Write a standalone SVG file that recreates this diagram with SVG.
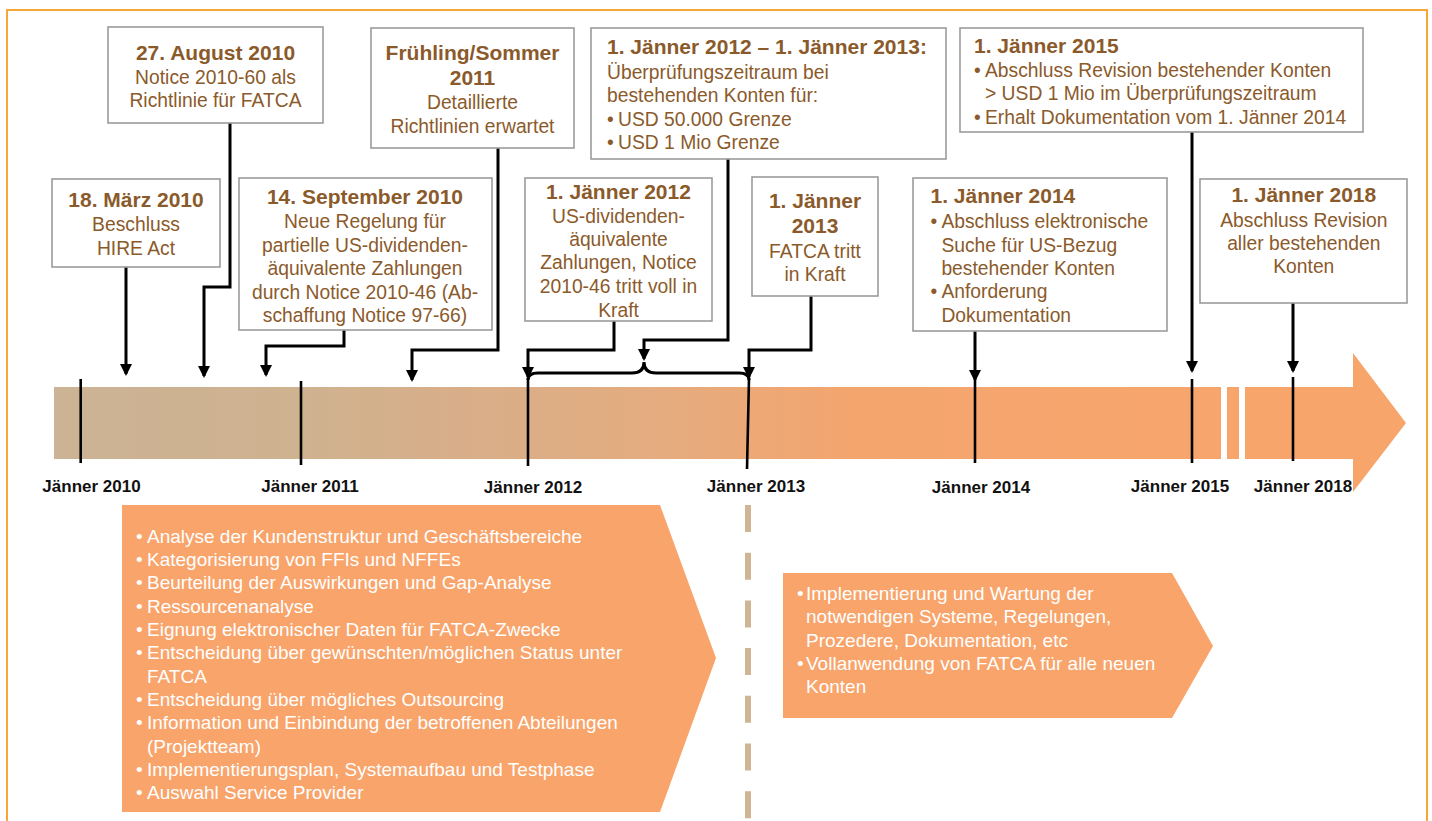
<svg xmlns="http://www.w3.org/2000/svg" width="1432" height="821" viewBox="0 0 1432 821">
<style>
.box{fill:#fff;stroke:#9b9b9b;stroke-width:1.6}
.h{font-family:"Liberation Sans",Arial,sans-serif;font-weight:bold;font-size:21px;fill:#8B5A2B}
.t{font-family:"Liberation Sans",Arial,sans-serif;font-size:19.3px;fill:#8B5A2B}
.c{text-anchor:middle}
.conn{fill:none;stroke:#000;stroke-width:3;stroke-linejoin:miter}
.tick{stroke:#000;stroke-width:2.6}
.lbl{font-family:"Liberation Sans",Arial,sans-serif;font-weight:bold;font-size:17px;fill:#111;text-anchor:middle}
.w{font-family:"Liberation Sans",Arial,sans-serif;font-size:19px;fill:#fff}
.phase{fill:#F8A46B}
</style>
<defs>
<linearGradient id="barGrad" gradientUnits="userSpaceOnUse" x1="54" y1="0" x2="1406" y2="0">
<stop offset="0" stop-color="#CBB394"/>
<stop offset="0.18" stop-color="#CFB290"/>
<stop offset="0.315" stop-color="#D9AE88"/>
<stop offset="0.44" stop-color="#E4AC80"/>
<stop offset="0.59" stop-color="#F4A56E"/>
<stop offset="1" stop-color="#F8A56B"/>
</linearGradient>
<marker id="arr" markerUnits="userSpaceOnUse" markerWidth="12" markerHeight="12" refX="10" refY="6" orient="auto">
<path d="M0,0 L12,6 L0,12 z" fill="#000"/>
</marker>
</defs>

<rect x="7" y="10" width="1420" height="840" fill="#fff" stroke="#F7A637" stroke-width="2"/>

<g id="timeline">
<path d="M54,387 H1221 V459 H54 Z" fill="url(#barGrad)"/>
<rect x="1227" y="387" width="12" height="72" fill="#F8A56B"/>
<path d="M1245,387 H1353 V353 L1406,423 L1353,492 V459 H1245 Z" fill="#F8A56B"/>
<line class="tick" x1="80.7" y1="379" x2="80.7" y2="463"/>
<line class="tick" x1="301" y1="381" x2="301" y2="465"/>
<line class="tick" x1="528" y1="378" x2="528" y2="466"/>
<line class="tick" x1="749" y1="378" x2="747" y2="469"/>
<line class="tick" x1="975" y1="380" x2="975" y2="463"/>
<line class="tick" x1="1192" y1="379" x2="1192" y2="463"/>
<line class="tick" x1="1293" y1="377" x2="1293" y2="461"/>
<text class="lbl" x="91.5" y="492">Jänner 2010</text>
<text class="lbl" x="310" y="492">Jänner 2011</text>
<text class="lbl" x="533" y="493">Jänner 2012</text>
<text class="lbl" x="756" y="492">Jänner 2013</text>
<text class="lbl" x="981" y="493">Jänner 2014</text>
<text class="lbl" x="1180" y="492">Jänner 2015</text>
<text class="lbl" x="1303" y="492">Jänner 2018</text>
</g>

<g id="connectors">
<path class="conn" d="M126,267 V374" marker-end="url(#arr)"/>
<path class="conn" d="M230,123 V287 H204 V376" marker-end="url(#arr)"/>
<path class="conn" d="M344,330 V346 H266 V375" marker-end="url(#arr)"/>
<path class="conn" d="M498,148 V350 H412 V380" marker-end="url(#arr)"/>
<path class="conn" d="M614,321 V350 H528 V377" marker-end="url(#arr)"/>
<path class="conn" d="M728,159 V340 H644 V359" marker-end="url(#arr)"/>
<path class="conn" d="M811,296 V350 H749 V377" marker-end="url(#arr)"/>
<path class="conn" d="M975,331 V380" marker-end="url(#arr)"/>
<path class="conn" d="M1192,132 V371" marker-end="url(#arr)"/>
<path class="conn" d="M1293,303 V371" marker-end="url(#arr)"/>
<path class="conn" d="M528,380 Q528,373 538,373 H632 Q644,373 644,362 Q644,373 656,373 H739 Q749,373 749,380"/>
</g>

<g id="box-2010-03">
<rect class="box" x="52" y="179" width="168" height="88"/>
<text class="h c" x="136" y="207">18. März 2010</text>
<text class="t c" x="136" y="231">Beschluss</text>
<text class="t c" x="136" y="255">HIRE Act</text>
</g>

<g id="box-2010-08">
<rect class="box" x="108" y="27" width="215" height="96"/>
<text class="h c" x="215.5" y="59.5">27. August 2010</text>
<text class="t c" x="215.5" y="83.5">Notice 2010-60 als</text>
<text class="t c" x="215.5" y="107">Richtlinie für FATCA</text>
</g>

<g id="box-2010-09">
<rect class="box" x="239" y="178" width="253" height="152"/>
<text class="h c" x="365" y="204">14. September 2010</text>
<text class="t c" x="365" y="228">Neue Regelung für</text>
<text class="t c" x="365" y="251.5">partielle US-dividenden-</text>
<text class="t c" x="365" y="275">äquivalente Zahlungen</text>
<text class="t c" x="365" y="298.5">durch Notice 2010-46 (Ab-</text>
<text class="t c" x="365" y="322">schaffung Notice 97-66)</text>
</g>

<g id="box-2011">
<rect class="box" x="371" y="28" width="203" height="120"/>
<text class="h c" x="472.5" y="60">Frühling/Sommer</text>
<text class="h c" x="472.5" y="85">2011</text>
<text class="t c" x="472.5" y="109">Detaillierte</text>
<text class="t c" x="472.5" y="133">Richtlinien erwartet</text>
</g>

<g id="box-2012-2013">
<rect class="box" x="591" y="28" width="355" height="131"/>
<text class="h" x="607" y="54">1. Jänner 2012 – 1. Jänner 2013:</text>
<text class="t" x="607" y="79">Überprüfungszeitraum bei</text>
<text class="t" x="607" y="102">bestehenden Konten für:</text>
<text class="t" x="607" y="126">•</text><text class="t" x="618" y="126">USD 50.000 Grenze</text>
<text class="t" x="607" y="149">•</text><text class="t" x="618" y="149">USD 1 Mio Grenze</text>
</g>

<g id="box-2012">
<rect class="box" x="525" y="178" width="187" height="143"/>
<text class="h c" x="618.5" y="199">1. Jänner 2012</text>
<text class="t c" x="618.5" y="223">US-dividenden-</text>
<text class="t c" x="618.5" y="246">äquivalente</text>
<text class="t c" x="618.5" y="269">Zahlungen, Notice</text>
<text class="t c" x="618.5" y="293">2010-46 tritt voll in</text>
<text class="t c" x="618.5" y="317">Kraft</text>
</g>

<g id="box-2013">
<rect class="box" x="752" y="177" width="126" height="119"/>
<text class="h c" x="815" y="208">1. Jänner</text>
<text class="h c" x="815" y="233">2013</text>
<text class="t c" x="815" y="258">FATCA tritt</text>
<text class="t c" x="815" y="281">in Kraft</text>
</g>

<g id="box-2014">
<rect class="box" x="913" y="178" width="254" height="153"/>
<text class="h" x="930.5" y="203">1. Jänner 2014</text>
<text class="t" x="930.5" y="228">•</text><text class="t" x="941.4" y="228">Abschluss elektronische</text>
<text class="t" x="941.4" y="252">Suche für US-Bezug</text>
<text class="t" x="941.4" y="275">bestehender Konten</text>
<text class="t" x="930.5" y="298">•</text><text class="t" x="941.4" y="298">Anforderung</text>
<text class="t" x="941.4" y="322">Dokumentation</text>
</g>

<g id="box-2015">
<rect class="box" x="960" y="28" width="403" height="104"/>
<text class="h" x="974" y="53">1. Jänner 2015</text>
<text class="t" x="974" y="77">•</text><text class="t" x="985" y="77">Abschluss Revision bestehender Konten</text>
<text class="t" x="985" y="100">&gt; USD 1 Mio im Überprüfungszeitraum</text>
<text class="t" x="974" y="124">•</text><text class="t" x="985" y="124">Erhalt Dokumentation vom 1. Jänner 2014</text>
</g>

<g id="box-2018">
<rect class="box" x="1200" y="179" width="207" height="124"/>
<text class="h c" x="1303.8" y="202">1. Jänner 2018</text>
<text class="t c" x="1303.8" y="227">Abschluss Revision</text>
<text class="t c" x="1303.8" y="250">aller bestehenden</text>
<text class="t c" x="1303.8" y="273">Konten</text>
</g>

<g id="divider">
<line x1="748" y1="505" x2="748" y2="830" stroke="#CFB593" stroke-width="6" stroke-dasharray="27 20.7"/>
</g>

<g id="phase-preparation">
<polygon class="phase" points="122,505 660,505 716,658 660,812 122,812"/>
<text class="w" x="136" y="542.5">•</text><text class="w" x="147" y="542.5">Analyse der Kundenstruktur und Geschäftsbereiche</text>
<text class="w" x="136" y="565.9">•</text><text class="w" x="147" y="565.9">Kategorisierung von FFIs und NFFEs</text>
<text class="w" x="136" y="589.2">•</text><text class="w" x="147" y="589.2">Beurteilung der Auswirkungen und Gap-Analyse</text>
<text class="w" x="136" y="612.5">•</text><text class="w" x="147" y="612.5">Ressourcenanalyse</text>
<text class="w" x="136" y="635.9">•</text><text class="w" x="147" y="635.9">Eignung elektronischer Daten für FATCA-Zwecke</text>
<text class="w" x="136" y="659.2">•</text><text class="w" x="147" y="659.2">Entscheidung über gewünschten/möglichen Status unter</text>
<text class="w" x="147" y="682.6">FATCA</text>
<text class="w" x="136" y="705.9">•</text><text class="w" x="147" y="705.9">Entscheidung über mögliches Outsourcing</text>
<text class="w" x="136" y="729.3">•</text><text class="w" x="147" y="729.3">Information und Einbindung der betroffenen Abteilungen</text>
<text class="w" x="147" y="752.6">(Projektteam)</text>
<text class="w" x="136" y="776">•</text><text class="w" x="147" y="776">Implementierungsplan, Systemaufbau und Testphase</text>
<text class="w" x="136" y="799.3">•</text><text class="w" x="147" y="799.3">Auswahl Service Provider</text>
</g>

<g id="phase-implementation">
<polygon class="phase" points="783,573 1172,573 1213,646 1172,718 783,718"/>
<text class="w" x="797" y="600">•</text><text class="w" x="806" y="600">Implementierung und Wartung der</text>
<text class="w" x="806" y="623">notwendigen Systeme, Regelungen,</text>
<text class="w" x="806" y="647">Prozedere, Dokumentation, etc</text>
<text class="w" x="797" y="670">•</text><text class="w" x="806" y="670">Vollanwendung von FATCA für alle neuen</text>
<text class="w" x="806" y="693">Konten</text>
</g>
</svg>
